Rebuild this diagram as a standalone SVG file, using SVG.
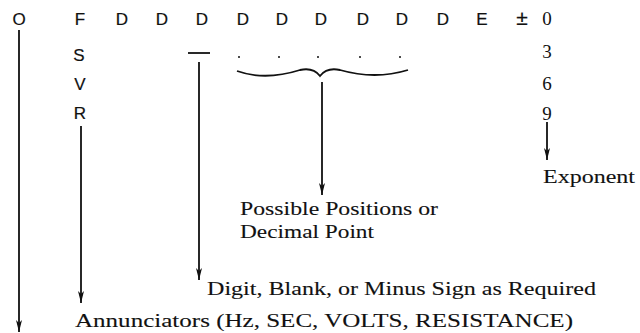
<svg xmlns="http://www.w3.org/2000/svg" width="640" height="333" viewBox="0 0 640 333">
<defs>
<style>
.top{font-family:"Liberation Sans",Arial,sans-serif;font-size:17px;fill:#111;stroke:#111;stroke-width:0.2;text-anchor:middle}
.num{font-family:"Liberation Serif","Times New Roman",serif;font-size:19px;fill:#111;text-anchor:middle}
.lbl{font-family:"Liberation Serif","Times New Roman",serif;font-size:18px;fill:#111;stroke:#111;stroke-width:0.1}
.ln{stroke:#111;stroke-width:1.8;fill:none}
</style>
<marker id="ad" viewBox="0 0 6 12" refX="3" refY="12" markerWidth="6" markerHeight="12" markerUnits="userSpaceOnUse" orient="0">
<path d="M0,0 L3,12 L6,0 L3,3 Z" fill="#111"/>
</marker>
</defs>
<rect width="640" height="333" fill="#fff"/>
<g id="format">
<text class="top" x="19" y="25">O</text>
<text class="top" x="80" y="25">F</text>
<text class="top" x="122" y="25">D</text>
<text class="top" x="162" y="25">D</text>
<text class="top" x="202" y="25">D</text>
<text class="top" x="243" y="25">D</text>
<text class="top" x="282" y="25">D</text>
<text class="top" x="321" y="25">D</text>
<text class="top" x="363" y="25">D</text>
<text class="top" x="402" y="25">D</text>
<text class="top" x="443" y="25">D</text>
<text class="top" x="482" y="25">E</text>
<text class="top" x="522" y="25" style="font-size:21px">±</text>
<text class="num" x="547" y="25">0</text>
<text class="top" x="79" y="61">S</text>
<text class="top" x="80" y="90">V</text>
<text class="top" x="80" y="119">R</text>
<text class="num" x="547" y="58">3</text>
<text class="num" x="547" y="90">6</text>
<text class="num" x="547" y="120">9</text>
<line class="ln" x1="188" y1="53" x2="210" y2="53"/>
<g fill="#111">
<circle cx="239" cy="57" r="1"/>
<circle cx="279" cy="57" r="1"/>
<circle cx="318" cy="57" r="1"/>
<circle cx="360" cy="57" r="1"/>
<circle cx="400" cy="57" r="1"/>
</g>
<path class="ln" d="M237,71 Q265,81 300,70 Q313,67 320,76 Q327,67 340,70 Q375,80 408,70"/>
</g>
<g id="connectors">
<line class="ln" x1="19" y1="30" x2="19" y2="332" marker-end="url(#ad)"/>
<line class="ln" x1="81" y1="126" x2="81" y2="303" marker-end="url(#ad)"/>
<line class="ln" x1="199" y1="62" x2="199" y2="280" marker-end="url(#ad)"/>
<line class="ln" x1="322" y1="82" x2="322" y2="195" marker-end="url(#ad)"/>
<line class="ln" x1="547" y1="122" x2="547" y2="160" marker-end="url(#ad)"/>
</g>
<g id="labels">
<text class="lbl" x="543" y="183" textLength="92" lengthAdjust="spacingAndGlyphs">Exponent</text>
<text class="lbl" x="240" y="215" textLength="198" lengthAdjust="spacingAndGlyphs">Possible Positions or</text>
<text class="lbl" x="240" y="238" textLength="134" lengthAdjust="spacingAndGlyphs">Decimal Point</text>
<text class="lbl" x="207" y="295" textLength="389" lengthAdjust="spacingAndGlyphs">Digit, Blank, or Minus Sign as Required</text>
<text class="lbl" x="75" y="327" textLength="498" lengthAdjust="spacingAndGlyphs">Annunciators (Hz, SEC, VOLTS, RESISTANCE)</text>
</g>
</svg>
